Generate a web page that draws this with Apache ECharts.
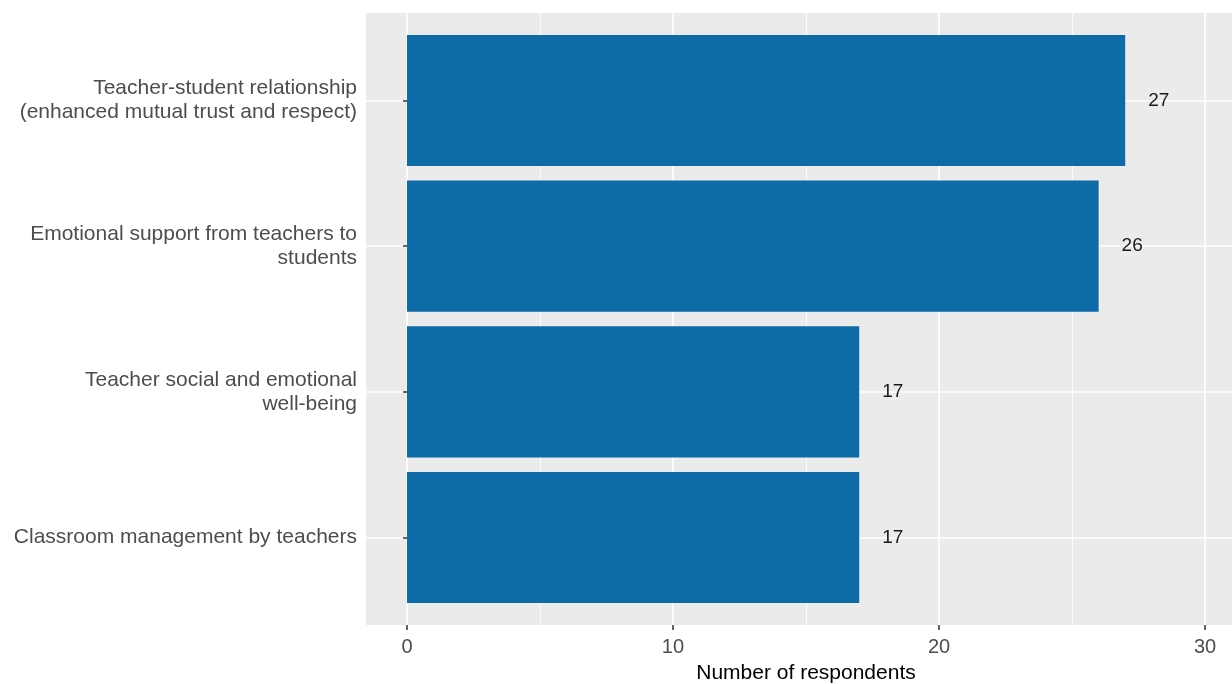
<!DOCTYPE html>
<html>
<head>
<meta charset="utf-8">
<script src="https://cdn.jsdelivr.net/npm/echarts@6/dist/echarts.min.js"></script>
<style>
html,body{margin:0;padding:0;background:#fff;}
#chart{width:1232px;height:684px;}
</style>
</head>
<body>
<div id="chart"></div>
<script>
const categories = [
  "Teacher-student relationship\n(enhanced mutual trust and respect)",
  "Emotional support from teachers to\nstudents",
  "Teacher social and emotional\nwell-being",
  "Classroom management by teachers"
];
const respondents = [27, 26, 17, 17];
const majorTicks = [0, 10, 20, 30];
const minorTicks = [5, 15, 25];
const xTitle = "Number of respondents";

const FONT = "'Liberation Sans', Arial, sans-serif";
const xMin = -1.54, xMax = 31.54;
const catPositions = categories.map((_, i) => i + 1);

const chart = echarts.init(document.getElementById('chart'), null, {renderer: 'canvas'});
chart.setOption({
  backgroundColor: '#ffffff',
  animation: false,
  grid: [
    {left: 366, top: 13, width: 880, height: 612, show: true, backgroundColor: '#EBEBEB', borderWidth: 0, containLabel: false, outerBoundsMode: 'none'},
    {left: 366, top: 27.6, width: 880, height: 582.8, show: false, containLabel: false, outerBoundsMode: 'none'}
  ],
  xAxis: [
    {
      type: 'value', gridIndex: 0, min: xMin, max: xMax,
      axisLine: {show: false},
      axisTick: {show: true, length: 5, customValues: majorTicks, lineStyle: {color: '#333333', width: 1.5}},
      axisLabel: {customValues: majorTicks, color: '#4D4D4D', fontSize: 20, fontFamily: FONT, margin: 12},
      splitLine: {show: true, lineStyle: {color: '#FFFFFF', width: 1.6}},
      name: xTitle, nameLocation: 'middle', nameGap: 38,
      nameTextStyle: {color: '#000000', fontSize: 21, fontFamily: FONT}
    },
    {
      type: 'value', gridIndex: 0, min: xMin, max: xMax,
      axisLine: {show: false},
      axisTick: {show: false, customValues: minorTicks},
      axisLabel: {show: false},
      splitLine: {show: true, lineStyle: {color: '#FFFFFF', width: 0.8}}
    },
    {
      type: 'value', gridIndex: 1, min: xMin, max: xMax, show: false,
      splitLine: {show: false}
    }
  ],
  yAxis: [
    {
      type: 'value', gridIndex: 0, min: 0.4, max: categories.length + 0.6, inverse: true,
      axisLine: {show: false},
      axisTick: {show: false, customValues: catPositions},
      axisLabel: {show: false},
      splitLine: {show: true, lineStyle: {color: '#FFFFFF', width: 1.6}}
    },
    {
      type: 'category', gridIndex: 1, data: categories, inverse: true,
      axisLine: {show: false},
      axisTick: {show: true, alignWithLabel: true, length: 4, lineStyle: {color: '#333333', width: 1.5}},
      axisLabel: {color: '#4D4D4D', fontSize: 21, fontFamily: FONT, margin: 9, lineHeight: 24, align: 'right', padding: [6, 0, 0, 0]},
      splitLine: {show: false}
    }
  ],
  series: [{
    type: 'bar',
    xAxisIndex: 2, yAxisIndex: 1,
    data: respondents,
    barCategoryGap: '10%',
    itemStyle: {color: '#0D6BA8'},
    label: {show: true, position: 'right', distance: 23, color: '#1A1A1A', fontSize: 19, fontFamily: FONT, padding: [3, 0, 0, 0]}
  }]
});
</script>
</body>
</html>
